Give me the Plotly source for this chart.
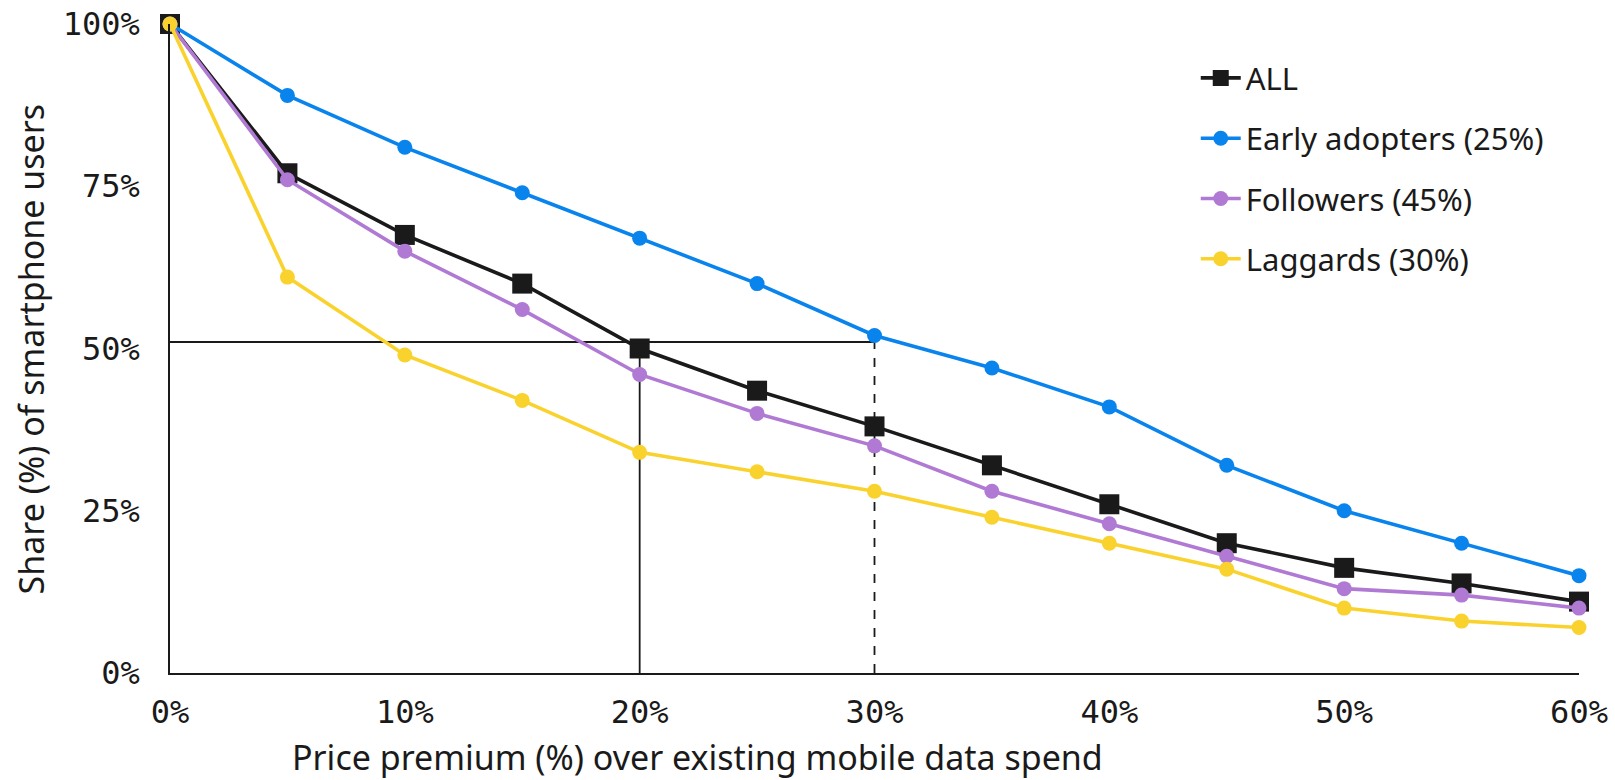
import plotly.graph_objects as go

# Price premium steps (%)
premium = [0, 5, 10, 15, 20, 25, 30, 35, 40, 45, 50, 55, 60]

# Share (%) of smartphone users still willing to pay at each premium
share_all = [100, 77, 67.5, 60, 50, 43.5, 38, 32, 26, 20, 16.2, 13.8, 11]
share_early = [100, 89, 81, 74, 67, 60, 52, 47, 41, 32, 25, 20, 15]
share_followers = [100, 76, 65, 56, 46, 40, 35, 28, 23, 18, 13, 12, 10]
share_laggards = [100, 61, 49, 42, 34, 31, 28, 24, 20, 16, 10, 8, 7]

series_names = ["ALL", "Early adopters (25%)", "Followers (45%)", "Laggards (30%)"]

# Reference guides: 20% premium reading, 30% premium reading, ~51% share level
guide_x_solid = 20
guide_x_dashed = 30
guide_y = 51

y_ticks = [0, 25, 50, 75, 100]
x_ticks = [0, 10, 20, 30, 40, 50, 60]

SANS = "Noto Sans, Lato, sans-serif"
MONO = "DejaVu Sans Mono, monospace"
INK = "#1a1a1a"

fig = go.Figure()

styles = [
    (share_all, series_names[0], INK, "square", 20),
    (share_early, series_names[1], "#0a84ed", "circle", 15),
    (share_followers, series_names[2], "#b07ad4", "circle", 15),
    (share_laggards, series_names[3], "#fad22d", "circle", 15),
]

for i, (vals, name, color, symbol, size) in enumerate(styles):
    fig.add_trace(go.Scatter(
        x=premium, y=vals, name=name, mode="lines+markers",
        line=dict(color=color, width=3.6),
        marker=dict(color=color, symbol=symbol, size=size, line=dict(width=0)),
        legendgroup=f"g{i}", cliponaxis=False,
    ))

# Guide lines
fig.add_shape(type="line", x0=0, x1=guide_x_dashed, y0=guide_y, y1=guide_y,
              line=dict(color=INK, width=1.8), layer="below")
fig.add_shape(type="line", x0=guide_x_solid, x1=guide_x_solid, y0=0, y1=guide_y,
              line=dict(color=INK, width=1.8), layer="below")
fig.add_shape(type="line", x0=guide_x_dashed, x1=guide_x_dashed, y0=0, y1=guide_y,
              line=dict(color=INK, width=1.8, dash="dash"), layer="below")

fig.update_layout(
    width=1615, height=780,
    margin=dict(l=170, r=36, t=24, b=107, autoexpand=False),
    paper_bgcolor="white", plot_bgcolor="white",
    font=dict(family=SANS, color=INK, size=30),
    showlegend=True,
    legend=dict(
        x=0.728, y=0.958, xanchor="left", yanchor="top",
        font=dict(family=SANS, size=31, color=INK),
        bgcolor="rgba(0,0,0,0)", tracegroupgap=17,
        traceorder="grouped", itemwidth=40,
    ),
    xaxis=dict(
        range=[0, 60], tickvals=x_ticks, ticktext=[f"{v}%" for v in x_ticks],
        showgrid=False, zeroline=False, showline=True, linecolor=INK, linewidth=1.8,
        ticks="", tickfont=dict(family=MONO, size=32, color=INK),
        ticklabelstandoff=10, automargin=False,
    ),
    yaxis=dict(
        range=[0, 100], tickvals=y_ticks, ticktext=[f"{v}%" for v in y_ticks],
        showgrid=False, zeroline=False, showline=True, linecolor=INK, linewidth=1.8,
        ticks="", tickfont=dict(family=MONO, size=32, color=INK),
        ticklabelstandoff=22, automargin=False,
    ),
    annotations=[
        dict(text="Price premium (%) over existing mobile data spend",
             xref="paper", yref="paper", x=0.3747, y=-0.1295,
             xanchor="center", yanchor="middle", showarrow=False,
             font=dict(family=SANS, size=34, color=INK)),
        dict(text="Share (%) of smartphone users",
             xref="paper", yref="paper", x=-0.0987, y=0.5, textangle=-90,
             xanchor="center", yanchor="middle", showarrow=False,
             font=dict(family=SANS, size=34, color=INK)),
    ],
)

fig.write_html("out.html")
